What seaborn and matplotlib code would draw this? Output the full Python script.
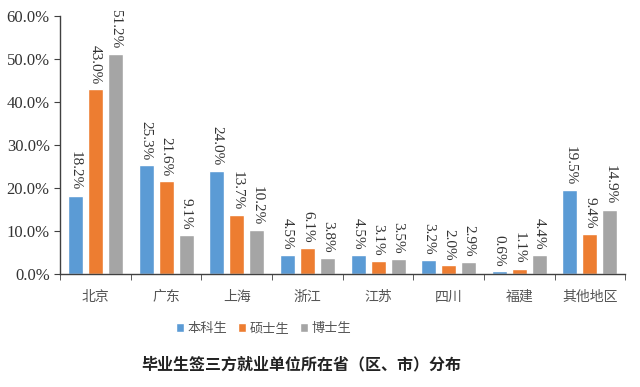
"""Grouped bar chart: provinces of graduates' employers."""

import matplotlib.pyplot as plt
import numpy as np
import pandas as pd
import seaborn as sns
from matplotlib.ticker import FixedLocator, PercentFormatter

regions = ["北京", "广东", "上海", "浙江", "江苏", "四川", "福建", "其他地区"]
degrees = ["本科生", "硕士生", "博士生"]
bachelor = [18.2, 25.3, 24.0, 4.5, 4.5, 3.2, 0.6, 19.5]
master = [43.0, 21.6, 13.7, 6.1, 3.1, 2.0, 1.1, 9.4]
doctor = [51.2, 9.1, 10.2, 3.8, 3.5, 2.9, 4.4, 14.9]
palette = ["#5B9BD5", "#ED7D31", "#A5A5A5"]

df = pd.DataFrame({
    "region": regions * 3,
    "degree": np.repeat(degrees, len(regions)),
    "share": bachelor + master + doctor,
})

sns.set_style("white")
plt.rcParams["font.family"] = ["Liberation Serif", "Noto Sans CJK SC"]
cjk = ["Noto Sans CJK SC", "DejaVu Sans"]

fig = plt.figure(figsize=(6.4, 3.87), dpi=100)
ax = fig.add_axes([0.094, 0.292, 0.883, 0.667])

sns.barplot(data=df, x="region", y="share", hue="degree", palette=palette,
            width=0.85, gap=0.25, saturation=1, ax=ax, legend=True)

for container in ax.containers:
    for bar in container:
        h = bar.get_height()
        ax.text(bar.get_x() + bar.get_width() / 2, h + 1.2, f"{h:.1f}%",
                rotation=270, ha="center", va="bottom", fontsize=11,
                color="#333333")

ax.set_ylim(0, 60)
ax.set_xlim(-0.5, len(regions) - 0.5)
ax.yaxis.set_major_locator(FixedLocator(np.arange(0, 61, 10)))
ax.yaxis.set_major_formatter(PercentFormatter(decimals=1))
ax.set_xlabel("")
ax.set_ylabel("")
for side in ["top", "right"]:
    ax.spines[side].set_visible(False)
for side in ["left", "bottom"]:
    ax.spines[side].set_color("#404040")
    ax.spines[side].set_linewidth(1.0)

ax.tick_params(axis="y", left=True, length=4, labelsize=12,
               labelcolor="#333333", color="#404040")
ax.tick_params(axis="x", which="major", bottom=False, pad=8)
ax.xaxis.set_minor_locator(FixedLocator(np.arange(-0.5, len(regions), 1)))
ax.tick_params(axis="x", which="minor", bottom=True, length=4,
               color="#404040")
for lbl in ax.get_xticklabels():
    lbl.set_fontfamily(cjk)
    lbl.set_fontsize(10)
    lbl.set_color("#555555")

ax.legend(loc="upper center", bbox_to_anchor=(0.36, -0.14), ncol=3,
          frameon=False, handlelength=0.6, handleheight=0.6,
          handletextpad=0.3, columnspacing=0.8,
          prop={"family": cjk, "size": 9.5})
for txt in ax.get_legend().get_texts():
    txt.set_color("#555555")

fig.text(0.47, 0.058, "毕业生签三方就业单位所在省（区、市）分布",
         ha="center", va="center", fontsize=11.5, fontweight="bold",
         family=cjk, color="#222222")

fig.savefig("out.png", dpi=100)
